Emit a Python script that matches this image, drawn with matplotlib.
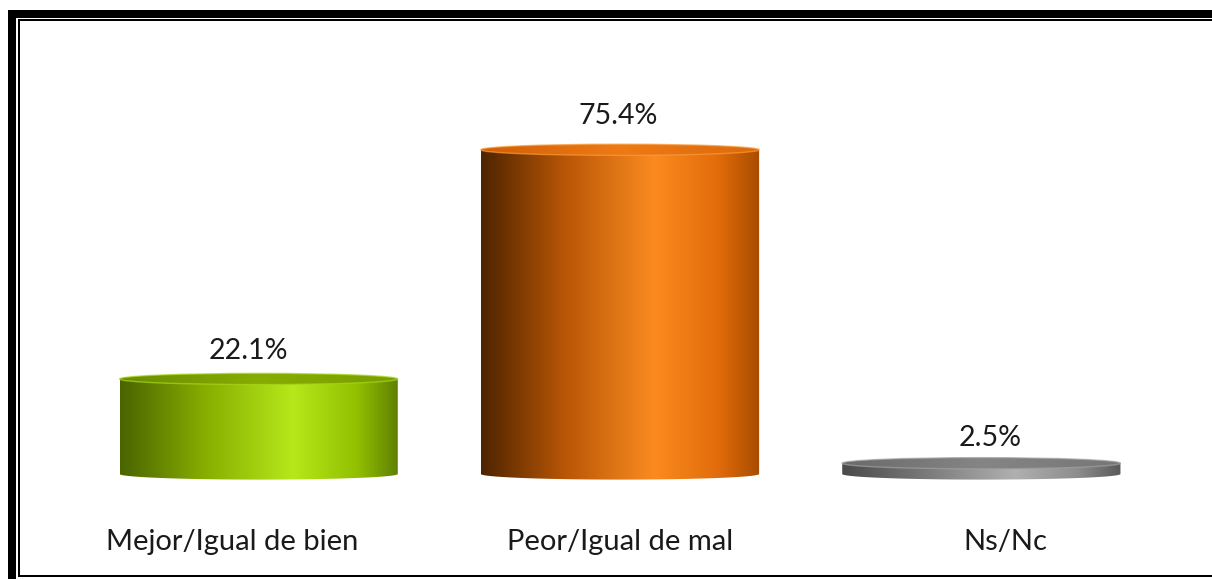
import numpy as np
import matplotlib
matplotlib.use("Agg")
import matplotlib.pyplot as plt
from matplotlib.path import Path
from matplotlib.patches import PathPatch, Ellipse, Rectangle
from matplotlib.colors import LinearSegmentedColormap

categories = ["Mejor/Igual de bien", "Peor/Igual de mal", "Ns/Nc"]
values = [22.1, 75.4, 2.5]
value_labels = ["22.1%", "75.4%", "2.5%"]

plt.rcParams['font.family'] = ['Lato', 'DejaVu Sans']

W, H = 1212, 579
fig = plt.figure(figsize=(W / 100, H / 100), dpi=100)
fig.patch.set_facecolor("white")

def fx(px):
    return px / W

def fy(py):
    return 1 - py / H

# axes placement (pixels)
ax_left, ax_right = 78, 1162
base_px, per_pct = 474, 4.3
ymin, ymax = -20, 100
ax_bottom_px = H - base_px + ymin * per_pct
ax_h = (ymax - ymin) * per_pct
ax = fig.add_axes([fx(ax_left), ax_bottom_px / H, (ax_right - ax_left) / W, ax_h / H])
ax.axis("off")

cmaps = [
    LinearSegmentedColormap.from_list("g", [(0, "#4a6400"), (0.3, "#86ad00"), (0.62, "#b6e81a"), (0.85, "#92c000"), (1, "#5f8000")]),
    LinearSegmentedColormap.from_list("o", [(0, "#4e2400"), (0.3, "#b85606"), (0.62, "#fb8b20"), (0.85, "#e26c0a"), (1, "#a84c00")]),
    LinearSegmentedColormap.from_list("k", [(0, "#4a4a4a"), (0.3, "#7a7a7a"), (0.62, "#b0b0b0"), (0.85, "#8c8c8c"), (1, "#5a5a5a")]),
]
top_cmaps = [
    LinearSegmentedColormap.from_list("gt", ["#6a8c00", "#86ad00", "#7a9e00"]),
    LinearSegmentedColormap.from_list("ot", ["#d06006", "#ee7a16", "#dc6a0c"]),
    LinearSegmentedColormap.from_list("kt", ["#6a6a6a", "#858585", "#767676"]),
]
rim_colors = ["#a8d81a", "#fb9a3a", "#a0a0a0"]

# label offsets in pixels (perspective of the original 3-D chart)
value_label_offsets = [(-10, 28), (-2, 34), (9, 25)]
category_label_dx = [-26, 0, 24]

bw = 0.77
e = 1.3  # half height of ellipse in data units
grad = np.linspace(0, 1, 256).reshape(1, -1)
pt = 0.72  # points per pixel at 100 dpi

for i, v in enumerate(values):
    x0, x1 = i - bw / 2, i + bw / 2
    th = np.linspace(np.pi, 2 * np.pi, 100)
    bx = i + (bw / 2) * np.cos(th)
    by = e * np.sin(th)
    verts = [(x0, v)] + list(zip(bx, by)) + [(x1, v), (x0, v)]
    codes = [Path.MOVETO] + [Path.LINETO] * (len(verts) - 2) + [Path.CLOSEPOLY]
    body = PathPatch(Path(verts, codes), facecolor="none", edgecolor="none")
    ax.add_patch(body)
    im = ax.imshow(grad, cmap=cmaps[i], extent=[x0, x1, -e, v], aspect="auto",
                   interpolation="bilinear", zorder=2)
    im.set_clip_path(body)
    # top face
    top = Ellipse((i, v), bw, 2 * e, facecolor="none", edgecolor="none")
    ax.add_patch(top)
    im2 = ax.imshow(grad, cmap=top_cmaps[i], extent=[x0, x1, v - e, v + e], aspect="auto",
                    interpolation="bilinear", zorder=3)
    im2.set_clip_path(top)
    ax.add_patch(Ellipse((i, v), bw, 2 * e, facecolor="none",
                         edgecolor=rim_colors[i], alpha=0.7, lw=1.0, zorder=4))
    dx, dy = value_label_offsets[i]
    ax.annotate(value_labels[i], (i, v), xytext=(dx * pt, dy * pt),
                textcoords="offset points", ha="center", va="center",
                fontsize=20.5, color="#1a1a1a", zorder=5)
    ax.annotate(categories[i], (i, 0), xytext=(category_label_dx[i] * pt, -68 * pt),
                textcoords="offset points", ha="center", va="center",
                fontsize=21, color="#1a1a1a", zorder=5)

ax.set_xlim(-0.5, 2.5)
ax.set_ylim(ymin, ymax)

# frame decorations
def rect_px(x, y, w, h):
    fig.add_artist(Rectangle((fx(x), fy(y + h)), w / W, h / H,
                             transform=fig.transFigure, facecolor="black",
                             edgecolor="none"))

rect_px(8, 10, W - 8, 8)      # top thick
rect_px(8, 10, 8, H - 10)     # left thick
rect_px(18, 19, W - 18, 2)    # top thin
rect_px(18, 19, 2, 577 - 19)  # left thin
rect_px(18, 575, W - 18, 2)   # bottom thin

fig.savefig("out.png", dpi=100, facecolor="white")
